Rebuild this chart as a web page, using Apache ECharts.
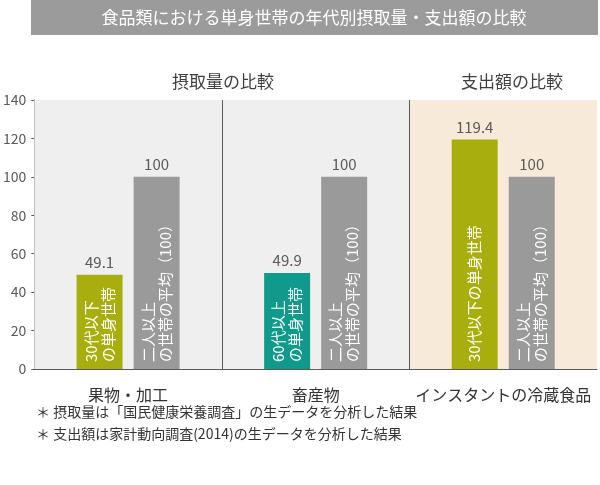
<!DOCTYPE html>
<html>
<head>
<meta charset="utf-8">
<script src="https://cdn.jsdelivr.net/npm/echarts@6/dist/echarts.min.js"></script>
<style>
html,body{margin:0;padding:0;background:#fff;}
#chart{width:600px;height:485px;}
</style>
</head>
<body>
<div id="chart"></div>
<script>
// ---- data ----
const categories = ['果物・加工', '畜産物', 'インスタントの冷蔵食品'];
const singleValues = [49.1, 49.9, 119.4];
const averageValues = [100, 100, 100];
const singleLabels = ['30代以下\nの単身世帯', '60代以上\nの単身世帯', '30代以下の単身世帯'];
const averageLabels = ['二人以上\nの世帯の平均（100）', '二人以上\nの世帯の平均（100）', '二人以上\nの世帯の平均（100）'];
const chartTitle = '食品類における単身世帯の年代別摂取量・支出額の比較';
const sectionTitles = ['摂取量の比較', '支出額の比較'];
const footnotes = ['＊ 摂取量は「国民健康栄養調査」の生データを分析した結果', '＊ 支出額は家計動向調査(2014)の生データを分析した結果'];
const yMin = 0, yMax = 140, yStep = 20;

// ---- styles ----
const FONT = '"Noto Sans CJK JP", "Noto Sans", sans-serif';
const singleColors = ['#a8ae0e', '#0f9a8b', '#a8ae0e'];
const avgColor = '#9a9a9a';
const axisColor = '#595959';

const chart = echarts.init(document.getElementById('chart'), null, {renderer: 'canvas'});

const barW = 46, barGap = '24%';

const insideLabel = {
  show: true,
  position: 'insideBottom',
  rotate: 90,
  align: 'left',
  verticalAlign: 'middle',
  distance: 7,
  color: '#ffffff',
  fontSize: 15,
  lineHeight: 17,
  fontFamily: FONT
};

const option = {
  animation: false,
  backgroundColor: '#ffffff',
  textStyle: {fontFamily: FONT},
  grid: {left: 32, right: 3, top: 100, bottom: 116, containLabel: false},
  xAxis: [
    {
      type: 'category', data: categories,
      axisLine: {show: true, lineStyle: {color: axisColor, width: 1}},
      axisTick: {show: false},
      axisLabel: {interval: 0, color: '#333333', fontSize: 16, margin: 18, fontFamily: FONT},
      splitLine: {show: false}
    },
    {type: 'category', data: categories, show: false},
    {type: 'value', min: 0, max: categories.length, show: false}
  ],
  yAxis: {
    type: 'value', min: yMin, max: yMax, interval: yStep,
    axisLine: {show: true, lineStyle: {color: axisColor, width: 1}},
    axisTick: {show: true, length: 3, lineStyle: {color: axisColor}},
    axisLabel: {color: axisColor, fontSize: 14, margin: 8, fontFamily: FONT},
    splitLine: {show: false}
  },
  graphic: [
    {type: 'rect', left: 31, top: 0, shape: {width: 567, height: 35}, style: {fill: '#9b9b9b'}, z: 0},
    {type: 'text', x: 314, y: 18, style: {text: chartTitle, fill: '#ffffff', fontSize: 17, fontFamily: FONT, align: 'center', verticalAlign: 'middle'}},
    {type: 'text', x: 223, y: 82, style: {text: sectionTitles[0], fill: '#404040', fontSize: 17, fontFamily: FONT, align: 'center', verticalAlign: 'middle'}},
    {type: 'text', x: 512, y: 82, style: {text: sectionTitles[1], fill: '#404040', fontSize: 17, fontFamily: FONT, align: 'center', verticalAlign: 'middle'}},
    {type: 'text', x: 36, y: 412, style: {text: footnotes[0], fill: '#333333', fontSize: 14, fontFamily: FONT, align: 'left', verticalAlign: 'middle'}},
    {type: 'text', x: 36, y: 434, style: {text: footnotes[1], fill: '#333333', fontSize: 14, fontFamily: FONT, align: 'left', verticalAlign: 'middle'}}
  ],
  series: [
    {
      type: 'line', xAxisIndex: 2, data: [], z: 1, silent: true,
      markArea: {
        silent: true,
        data: [
          [{xAxis: 0, itemStyle: {color: '#efefef'}}, {xAxis: 1}],
          [{xAxis: 1, itemStyle: {color: '#efefef'}}, {xAxis: 2}],
          [{xAxis: 2, itemStyle: {color: '#f8ead9'}}, {xAxis: 3}]
        ]
      },
      markLine: {
        silent: true, symbol: ['none', 'none'], label: {show: false},
        lineStyle: {color: axisColor, width: 1, type: 'solid'},
        data: [{xAxis: 1}, {xAxis: 2}]
      }
    },
    {
      name: '単身世帯', type: 'bar', xAxisIndex: 0, z: 2,
      barWidth: barW, barGap: barGap,
      data: singleValues.map((v, i) => ({value: v, itemStyle: {color: singleColors[i]}})),
      label: {show: true, position: 'top', distance: 5, color: axisColor, fontSize: 15, fontFamily: FONT}
    },
    {
      name: '二人以上の世帯の平均', type: 'bar', xAxisIndex: 0, z: 2,
      barWidth: barW, barGap: barGap,
      data: averageValues,
      itemStyle: {color: avgColor},
      label: {show: true, position: 'top', distance: 5, color: axisColor, fontSize: 15, fontFamily: FONT}
    },
    {
      type: 'bar', xAxisIndex: 1, z: 3, silent: true,
      barWidth: barW, barGap: barGap,
      data: singleValues.map((v, i) => ({value: v, label: {formatter: singleLabels[i]}})),
      itemStyle: {color: 'rgba(0,0,0,0)'},
      label: insideLabel
    },
    {
      type: 'bar', xAxisIndex: 1, z: 3, silent: true,
      barWidth: barW, barGap: barGap,
      data: averageValues.map((v, i) => ({value: v, label: {formatter: averageLabels[i]}})),
      itemStyle: {color: 'rgba(0,0,0,0)'},
      label: insideLabel
    }
  ]
};
chart.setOption(option);
</script>
</body>
</html>
